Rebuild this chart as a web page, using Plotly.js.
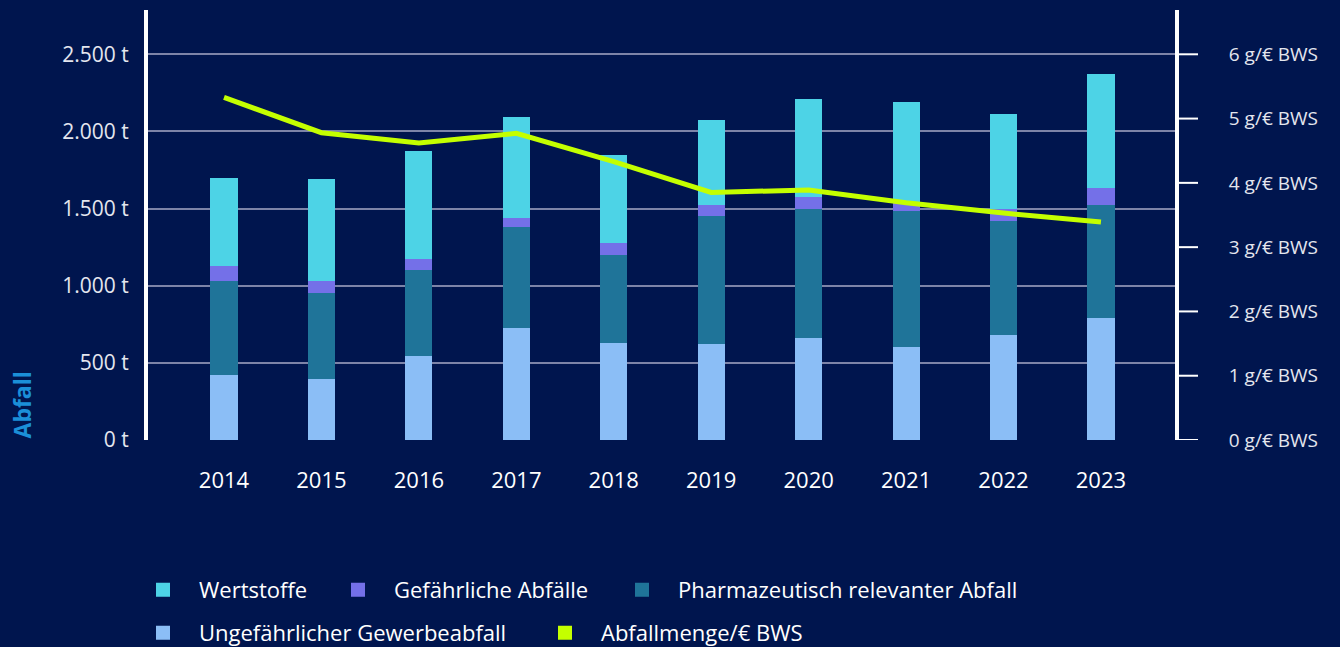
<!DOCTYPE html>
<html>
<head>
<meta charset="utf-8">
<script src="https://cdn.plot.ly/plotly-3.0.1.min.js"></script>
<style>
  html, body { margin: 0; padding: 0; background: #00154e; }
  #chart { width: 1340px; height: 647px; }
</style>
</head>
<body>
<div id="chart"></div>
<script>
// ---- data ----
const years = ['2014','2015','2016','2017','2018','2019','2020','2021','2022','2023'];
const ungefaehrlich = [427, 402, 551, 732, 635, 629, 668, 609, 687, 797];   // t
const pharma        = [609, 557, 557, 655, 571, 829, 836, 882, 739, 735];   // t
const gefaehrlich   = [97, 78, 72, 58, 77, 72, 78, 54, 78, 108];            // t
const wertstoffe    = [557, 648, 687, 642, 558, 538, 622, 639, 602, 726];   // t
const abfallProBWS  = [5.33, 4.78, 4.62, 4.77, 4.33, 3.85, 3.89, 3.69, 3.53, 3.39]; // g/€ BWS

const leftTicks  = [0, 500, 1000, 1500, 2000, 2500];
const rightTicks = [0, 1, 2, 3, 4, 5, 6];

function deNumber(v) {
  return String(v).replace(/\B(?=(\d{3})+(?!\d))/g, '.');
}
const leftTickText  = leftTicks.map(v => deNumber(v) + ' t');
const rightTickText = rightTicks.map(v => v + ' g/€ BWS');

const names = {
  wert: 'Wertstoffe',
  gef: 'Gefährliche Abfälle',
  pharma: 'Pharmazeutisch relevanter Abfall',
  ungef: 'Ungefährlicher Gewerbeabfall',
  line: 'Abfallmenge/€ BWS'
};

const colors = {
  bg: '#00154e',
  wert: '#4dd3e6',
  gef: '#7470e8',
  pharma: '#1f7499',
  ungef: '#8bbef6',
  line: '#c4ff00',
  grid: '#7d84a8',
  tick: '#e4e6ee',
  title: '#1b8fd8'
};

const FONT = 'Open Sans, Lato, sans-serif';
const barWidth = 0.258;
const PLOT_W = 1340 - 148 - 165;
const RIGHT_TICK_LEN = 23; // px

function barTrace(name, values, color, legend) {
  return {
    type: 'bar', x: years, y: values, name: name,
    marker: { color: color, line: { color: color, width: 2 } },
    width: barWidth, legend: legend,
    hoverinfo: 'x+y+name'
  };
}

const traces = [
  barTrace(names.ungef, ungefaehrlich, colors.ungef, 'legend4'),
  barTrace(names.pharma, pharma, colors.pharma, 'legend3'),
  barTrace(names.gef, gefaehrlich, colors.gef, 'legend2'),
  barTrace(names.wert, wertstoffe, colors.wert, 'legend'),
  {
    type: 'scatter', mode: 'lines', x: years, y: abfallProBWS, yaxis: 'y2',
    name: names.line, showlegend: false,
    line: { color: colors.line, width: 5 }
  },
  // legend swatch for the line series (square, as in the reference)
  {
    type: 'bar', x: years, y: years.map(() => null), name: names.line,
    marker: { color: colors.line, line: { color: colors.line, width: 2 } },
    legend: 'legend5', hoverinfo: 'skip'
  }
];

function legendAt(xPx, yPx) {
  return {
    orientation: 'h',
    xref: 'container', yref: 'container',
    x: xPx / 1340, xanchor: 'left',
    y: 1 - yPx / 647, yanchor: 'middle',
    itemwidth: 62,
    font: { size: 22, color: '#ffffff', family: FONT },
    bgcolor: 'rgba(0,0,0,0)'
  };
}

// long outside tick marks of the right axis, placed at its tick values
const rightTickShapes = rightTicks.map(v => ({
  type: 'line', xref: 'paper', yref: 'y2',
  x0: 1, x1: 1 + RIGHT_TICK_LEN / PLOT_W, y0: v, y1: v,
  line: { color: '#ffffff', width: 2 }, layer: 'above'
}));

const layout = {
  width: 1340, height: 647,
  paper_bgcolor: colors.bg, plot_bgcolor: colors.bg,
  margin: { l: 148, r: 165, t: 10, b: 207, autoexpand: false },
  barmode: 'stack',
  font: { family: FONT, color: colors.tick },
  xaxis: {
    type: 'category',
    range: [-0.78, 9.76],
    showgrid: false, zeroline: false, showline: false,
    ticks: '',
    tickfont: { size: 22, color: '#ffffff', family: FONT },
    ticklabelstandoff: 25
  },
  yaxis: {
    range: [0, 2787],
    tickmode: 'array',
    tickvals: leftTicks,
    ticktext: leftTickText,
    tickfont: { size: 21, color: colors.tick, family: FONT },
    showgrid: true, gridcolor: colors.grid, gridwidth: 2,
    zeroline: false,
    showline: true, linecolor: '#ffffff', linewidth: 4,
    ticks: '',
    ticklabelstandoff: 11
  },
  yaxis2: {
    overlaying: 'y', side: 'right',
    range: [0, 6.689],
    tickmode: 'array',
    tickvals: rightTicks,
    ticktext: rightTickText,
    tickfont: { size: 19, color: colors.tick, family: FONT },
    showgrid: false, zeroline: false,
    showline: true, linecolor: '#ffffff', linewidth: 4,
    ticks: '',
    ticklabelstandoff: 46
  },
  shapes: rightTickShapes,
  legend:  legendAt(127, 590),
  legend2: legendAt(322, 590),
  legend3: legendAt(606, 590),
  legend4: legendAt(127, 633),
  legend5: legendAt(529, 633),
  annotations: [{
    text: '<b>Abfall</b>', xref: 'paper', yref: 'paper',
    x: -0.1227, y: 0, xanchor: 'center', yanchor: 'bottom',
    textangle: -90, showarrow: false,
    font: { size: 23, color: colors.title, family: FONT }
  }],
  showlegend: true
};

Plotly.newPlot('chart', traces, layout, { displayModeBar: false, staticPlot: true });
</script>
</body>
</html>
